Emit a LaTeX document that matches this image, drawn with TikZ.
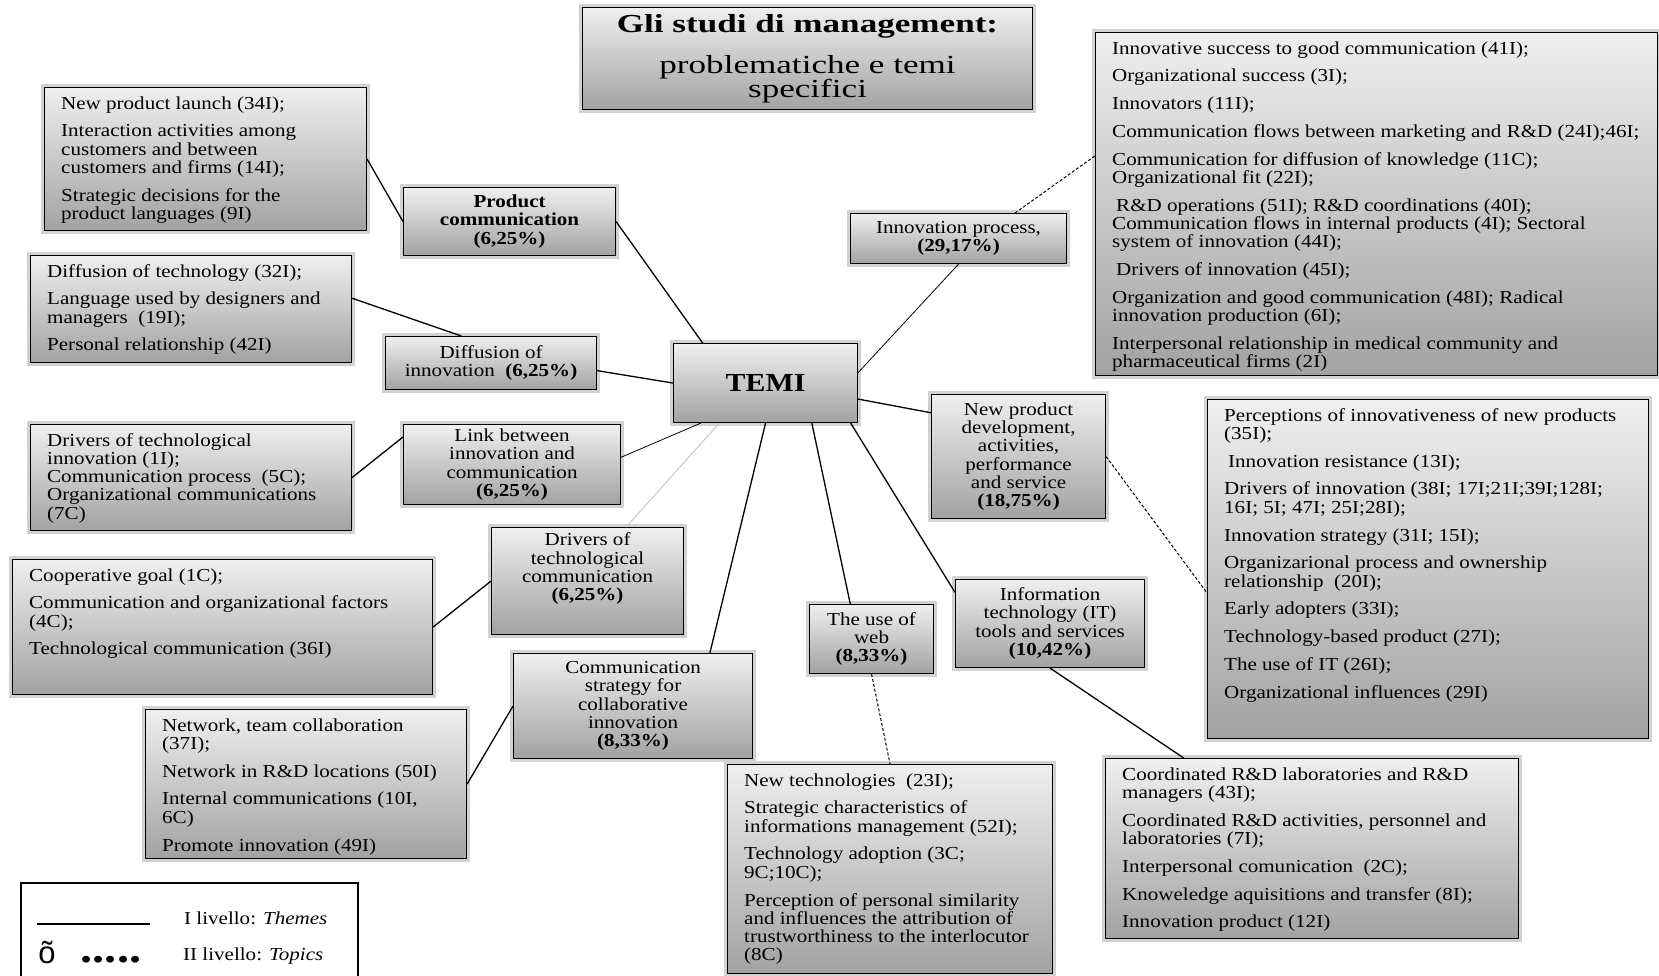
\documentclass[tikz,border=0pt]{standalone}
\usepackage{fontspec}
\setmainfont{Liberation Serif}[FakeStretch=1.15]
\newfontfamily\titlefam{Liberation Serif}[FakeStretch=1.35]
\newfontfamily\legendsans{Liberation Sans}
\usetikzlibrary{calc}

\definecolor{boxtop}{HTML}{EFEFEF}
\definecolor{boxbot}{HTML}{A2A2A2}
\definecolor{halo}{HTML}{D2D2D2}

\newcommand{\bodysize}{\fontsize{18.3}{18.3}\selectfont}
\newcommand{\titlesize}{\titlefam\fontsize{26}{24}\selectfont\lineskiplimit-50pt\relax}
\newcommand{\pctb}[1]{\textbf{(#1\%)}}
% list text: first baseline sits in a top-aligned paragraph box
\newcommand{\itemlist}[2]{\parbox[t]{#1pt}{\bodysize\raggedright\setlength{\parskip}{9.5pt}#2}}

\begin{document}
\begin{tikzpicture}[x=1pt,y=-1pt,
  card/.style={draw=black, line width=1.1pt, top color=boxtop, bottom color=boxbot,
    preaction={draw=halo, line width=7pt}, inner sep=0pt, anchor=north west},
  themebox/.style={card, align=center, font=\bodysize},
  listtext/.style={anchor=base west, inner sep=0pt},
  link/.style={line width=1.3pt},
  thinlink/.style={line width=0.8pt},
  palelink/.style={line width=1pt, draw=black!22},
  dlink/.style={line width=1pt, dash pattern=on 3pt off 2pt}]

\useasboundingbox (0,0) rectangle (1659,975);

% ---------- title ----------
\node[card, align=center, minimum width=450, minimum height=102,
  font=\titlesize] (title) at (582,7)
  {\textbf{Gli studi di management:}\\[17pt] problematiche e temi\\ specifici};

% ---------- central node ----------
\node[card, minimum width=184, minimum height=79,
  font=\fontsize{26}{26}\selectfont\bfseries] (T) at (673,343) {TEMI};

% ---------- themes ----------
\node[themebox, minimum width=212, minimum height=68] (C1) at (403,187)
  {\textbf{Product}\\\textbf{communication}\\\pctb{6,25}};
\node[themebox, minimum width=211, minimum height=53] (C2) at (385,336)
  {Diffusion of\\innovation~ \pctb{6,25}};
\node[themebox, minimum width=216, minimum height=50] (C3) at (850,213)
  {Innovation process,\\\pctb{29,17}};
\node[themebox, minimum width=217, minimum height=80] (C4) at (403,424)
  {Link between\\innovation and\\communication\\\pctb{6,25}};
\node[themebox, minimum width=192, minimum height=107] (C5) at (491,527)
  {Drivers of\\technological\\communication\\\pctb{6,25}\\[10pt]};
\node[themebox, minimum width=239, minimum height=105] (C6) at (513,653)
  {Communication\\strategy for\\collaborative\\innovation\\\pctb{8,33}};
\node[themebox, minimum width=124, minimum height=69] (C7) at (809,604)
  {The use of\\web\\\pctb{8,33}};
\node[themebox, minimum width=189, minimum height=88] (C8) at (955,579)
  {Information\\technology (IT)\\tools and services\\\pctb{10,42}};
\node[themebox, minimum width=174, minimum height=124] (C9) at (931,394)
  {New product\\development,\\activities,\\performance\\and service\\\pctb{18,75}};

% ---------- topic lists ----------
\node[card, minimum width=322, minimum height=143] (L1) at (44,87) {};
\node[listtext] (L1t) at ($(L1.north west)+(17,22)$) {\itemlist{300}{%
New product launch (34I);\par
Interaction activities among\\customers and between\\customers and firms (14I);\par
Strategic decisions for the\\product languages (9I)}};

\node[card, minimum width=321, minimum height=107] (L2) at (30,255) {};
\node[listtext] (L2t) at ($(L2.north west)+(17,22)$) {\itemlist{300}{%
Diffusion of technology (32I);\par
Language used by designers and\\managers~ (19I);\par
Personal relationship (42I)}};

\node[card, minimum width=562, minimum height=343] (L3) at (1095,32) {};
\node[listtext] (L3t) at ($(L3.north west)+(17,22)$) {\itemlist{540}{%
Innovative success to good communication (41I);\par
Organizational success (3I);\par
Innovators (11I);\par
Communication flows between marketing and R\&D (24I);46I;\par
Communication for diffusion of knowledge (11C);\\Organizational fit (22I);\par
\hspace*{4pt}R\&D operations (51I); R\&D coordinations (40I);\\Communication flows in internal products (4I); Sectoral\\system of innovation (44I);\par
\hspace*{4pt}Drivers of innovation (45I);\par
Organization and good communication (48I); Radical\\innovation production (6I);\par
Interpersonal relationship in medical community and\\pharmaceutical firms (2I)}};

\node[card, minimum width=321, minimum height=106] (L4) at (30,424) {};
\node[listtext] (L4t) at ($(L4.north west)+(17,22)$) {\itemlist{300}{%
Drivers of technological\\innovation (1I);\\Communication process~ (5C);\\Organizational communications\\(7C)}};

\node[card, minimum width=420, minimum height=135] (L5) at (12,559) {};
\node[listtext] (L5t) at ($(L5.north west)+(17,22)$) {\itemlist{398}{%
Cooperative goal (1C);\par
Communication and organizational factors\\(4C);\par
Technological communication (36I)}};

\node[card, minimum width=321, minimum height=149] (L6) at (145,709) {};
\node[listtext] (L6t) at ($(L6.north west)+(17,22)$) {\itemlist{300}{%
Network, team collaboration\\(37I);\par
Network in R\&D locations (50I)\par
Internal communications (10I,\\6C)\par
Promote innovation (49I)}};

\node[card, minimum width=325, minimum height=209] (L7) at (727,764) {};
\node[listtext] (L7t) at ($(L7.north west)+(17,22)$) {\itemlist{304}{%
New technologies~ (23I);\par
Strategic characteristics of\\informations management (52I);\par
Technology adoption (3C;\\9C;10C);\par
Perception of personal similarity\\and influences the attribution of\\trustworthiness to the interlocutor\\(8C)}};

\node[card, minimum width=441, minimum height=339] (L8) at (1207,399) {};
\node[listtext] (L8t) at ($(L8.north west)+(17,22)$) {\itemlist{420}{%
Perceptions of innovativeness of new products\\(35I);\par
\hspace*{4pt}Innovation resistance (13I);\par
Drivers of innovation (38I; 17I;21I;39I;128I;\\16I; 5I; 47I; 25I;28I);\par
Innovation strategy (31I; 15I);\par
Organizarional process and ownership\\relationship~ (20I);\par
Early adopters (33I);\par
Technology-based product (27I);\par
The use of IT (26I);\par
Organizational influences (29I)}};

\node[card, minimum width=413, minimum height=180] (L9) at (1105,758) {};
\node[listtext] (L9t) at ($(L9.north west)+(17,22)$) {\itemlist{392}{%
Coordinated R\&D laboratories and R\&D\\managers (43I);\par
Coordinated R\&D activities, personnel and\\laboratories (7I);\par
Interpersonal comunication~ (2C);\par
Knoweledge aquisitions and transfer (8I);\par
Innovation product (12I)}};

% ---------- first level: themes ----------
\draw[link] (L1.east) -- (C1.west);
\draw[link] (C1.east) -- ($(T.north west)!0.16!(T.north east)$);
\draw[link] ($(L2.north east)!0.4!(L2.south east)$) -- ($(C2.north west)!0.36!(C2.north east)$);
\draw[link] ($(C2.north east)!0.64!(C2.south east)$) -- (T.west);
\draw[thinlink] ($(C4.north east)!0.41!(C4.south east)$) -- ($(T.south west)!0.15!(T.south east)$);
\draw[link] (L4.east) -- ($(C4.north west)!0.16!(C4.south west)$);
\draw[palelink] ($(C5.north west)!0.7!(C5.north east)$) -- ($(T.south west)!0.25!(T.south east)$);
\draw[link] (L5.east) -- (C5.west);
\draw[link] ($(C6.north west)!0.82!(C6.north east)$) -- (T.south);
\draw[link] (C6.west) -- (L6.east);
\draw[link] ($(T.south west)!0.75!(T.south east)$) -- ($(C7.north west)!0.33!(C7.north east)$);
\draw[link] ($(T.south west)!0.96!(T.south east)$) -- ($(C8.north west)!0.15!(C8.south west)$);
\draw[thinlink] ($(T.north east)!0.37!(T.south east)$) -- (C3.south);
\draw[link] ($(T.north east)!0.7!(T.south east)$) -- ($(C9.north west)!0.15!(C9.south west)$);
\draw[link] (C8.south) -- ($(L9.north west)!0.19!(L9.north east)$);

% ---------- second level: topics ----------
\draw[dlink] ($(C3.north west)!0.76!(C3.north east)$) -- ($(L3.north west)!0.36!(L3.south west)$);
\draw[dlink] (C9.east) -- ($(L8.north west)!0.57!(L8.south west)$);
\draw[dlink] (C7.south) -- (L7.north);

% ---------- legend ----------
\draw[line width=2pt] (21,976) -- (21,883) -- (358,883) -- (358,976);
\draw[line width=1.3pt] (37,924) -- (150,924);
\node[anchor=west, inner sep=0pt, font=\bodysize] (lg1) at (184,918) {I livello: \textit{Themes}};
\node[inner sep=0pt, font=\legendsans\fontsize{31}{31}\selectfont] (lgo) at (47,953) {õ};
\node[anchor=base, inner sep=0pt, font=\fontsize{42}{42}\selectfont\bfseries] (lgd) at (111,962) {.....};
\node[anchor=west, inner sep=0pt, font=\bodysize] (lg2) at (183,956) {II livello: \textit{Topics}};

\end{tikzpicture}
\end{document}
